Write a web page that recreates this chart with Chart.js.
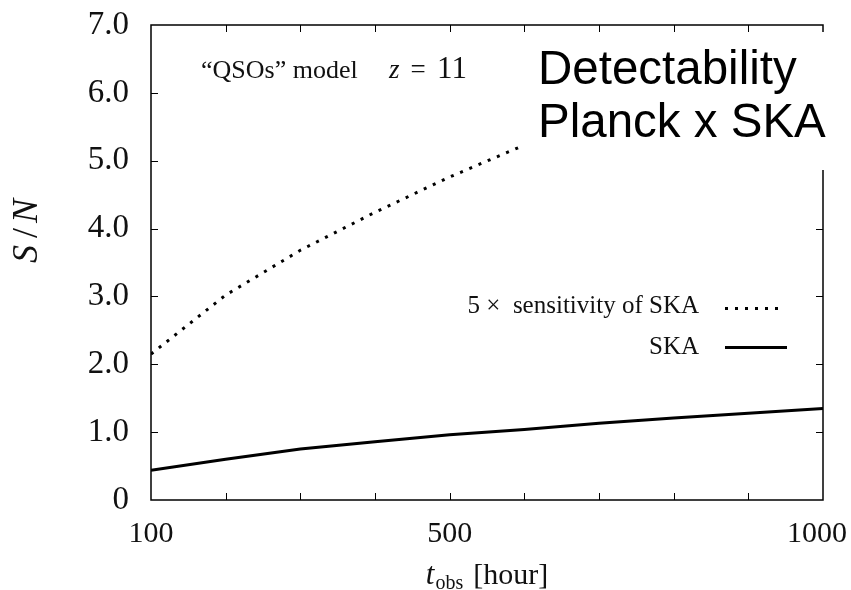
<!DOCTYPE html>
<html>
<head>
<meta charset="utf-8">
<script src="https://cdn.jsdelivr.net/npm/chart.js@4/dist/chart.umd.min.js"></script>
<style>
  body { margin: 0; background: #fff; }
  #wrap { width: 851px; height: 590px; }
</style>
</head>
<body>
<div id="wrap"><canvas id="snChart"></canvas></div>
<script>
// observing time [hour] and S/N
const hours = [100, 200, 300, 400, 500, 600, 700, 800, 900, 1000];
const snSKA = [0.44, 0.60, 0.75, 0.86, 0.96, 1.04, 1.13, 1.21, 1.28, 1.35];
// the dotted curve disappears behind the label box after ~600 h
const sn5xSKA = [2.15, 3.02, 3.68, 4.24, 4.76, 5.23, null, null, null, null];
const xLabelTicks = [100, 500, 1000];
const seriesNames = ["5 \u00d7  sensitivity of SKA", "SKA"];

const serif = "'Liberation Serif', 'Times New Roman', serif";
const sans = "'Liberation Sans', Arial, sans-serif";

function toPoints(ys) {
  return hours.map((h, i) => ({ x: h, y: ys[i] }));
}

// frame, inward ticks, x labels, legend, annotations and axis titles
const decor = {
  id: "decor",
  afterDatasetsDraw(chart) {
    const ctx = chart.ctx;
    const a = chart.chartArea;
    const xs = chart.scales.x, ys = chart.scales.y;
    ctx.save();
    ctx.strokeStyle = "#000";
    ctx.lineWidth = 1.5;
    ctx.strokeRect(a.left, a.top, a.right - a.left, a.bottom - a.top);

    // inward tick marks on all four sides
    ctx.lineWidth = 1;
    ctx.beginPath();
    xs.ticks.forEach(t => {
      if (t.value <= xs.min || t.value >= xs.max) return;
      const px = Math.round(xs.getPixelForValue(t.value)) + 0.5;
      ctx.moveTo(px, a.bottom); ctx.lineTo(px, a.bottom - 7);
      ctx.moveTo(px, a.top); ctx.lineTo(px, a.top + 7);
    });
    ys.ticks.forEach(t => {
      if (t.value <= ys.min || t.value >= ys.max) return;
      const py = Math.round(ys.getPixelForValue(t.value)) + 0.5;
      ctx.moveTo(a.left, py); ctx.lineTo(a.left + 7, py);
      ctx.moveTo(a.right, py); ctx.lineTo(a.right - 7, py);
    });
    ctx.stroke();

    // x tick labels, kept inside the canvas like the original
    ctx.fillStyle = "#111";
    ctx.font = "30px " + serif;
    ctx.textAlign = "center";
    ctx.textBaseline = "alphabetic";
    xLabelTicks.forEach(v => {
      const s = String(v);
      const w = ctx.measureText(s).width;
      let px = xs.getPixelForValue(v);
      if (px + w / 2 > chart.width - 4) px = chart.width - 4 - w / 2;
      ctx.fillText(s, px, 542);
    });

    // legend
    const ds = chart.data.datasets;
    ctx.font = "25px " + serif;
    ctx.textAlign = "right";
    const legRows = [{ base: 313, line: 308.5, end: 783 }, { base: 354, line: 347.5, end: 787 }];
    ds.forEach((d, i) => {
      const r = legRows[i];
      ctx.fillText(d.label, 699, r.base);
      ctx.strokeStyle = d.borderColor;
      ctx.lineWidth = d.borderWidth;
      ctx.setLineDash(d.borderDash || []);
      ctx.beginPath();
      ctx.moveTo(725, r.line); ctx.lineTo(r.end, r.line);
      ctx.stroke();
      ctx.setLineDash([]);
    });

    // model label
    ctx.textAlign = "left";
    ctx.font = "26px " + serif;
    ctx.fillText("\u201cQSOs\u201d model", 201, 78);
    ctx.font = "italic 27px " + serif;
    ctx.fillText("z", 389, 78);
    ctx.font = "27px " + serif;
    ctx.textAlign = "center";
    ctx.fillText("=", 418, 78);
    ctx.font = "31px " + serif;
    ctx.fillText("11", 452, 78);

    // pasted title box
    ctx.textAlign = "left";
    ctx.fillStyle = "#fff";
    ctx.fillRect(521, 32, 330, 138);
    ctx.fillStyle = "#000";
    ctx.font = "47.5px " + sans;
    ctx.fillText("Detectability", 538, 84);
    ctx.fillText("Planck x SKA", 538, 137);

    // x axis title: t_obs [hour]
    ctx.fillStyle = "#111";
    ctx.font = "italic 31px " + serif;
    const tW = ctx.measureText("t").width;
    ctx.font = "20px " + serif;
    const subW = ctx.measureText("obs").width;
    ctx.font = "30px " + serif;
    const hW = ctx.measureText("[hour]").width;
    const gap = 11;
    let x0 = (a.left + a.right) / 2 - (tW + subW + gap + hW) / 2;
    ctx.font = "italic 31px " + serif;
    ctx.fillText("t", x0, 584);
    ctx.font = "20px " + serif;
    ctx.fillText("obs", x0 + tW + 1, 589);
    ctx.font = "30px " + serif;
    ctx.fillText("[hour]", x0 + tW + subW + gap, 584);

    // y axis title: S/N
    ctx.translate(37, 233);
    ctx.rotate(-Math.PI / 2);
    ctx.textAlign = "center";
    ctx.font = "italic 36px " + serif;
    ctx.fillText("S", -21, 0);
    ctx.fillText("N", 22, 0);
    ctx.font = "36px " + serif;
    ctx.fillText("/", 0, 0);
    ctx.restore();
  }
};

new Chart(document.getElementById("snChart"), {
  type: "line",
  data: {
    datasets: [
      {
        label: seriesNames[0],
        data: toPoints(sn5xSKA),
        borderColor: "#000",
        borderWidth: 3,
        borderDash: [3, 7],
        pointRadius: 0,
        tension: 0,
        spanGaps: false
      },
      {
        label: seriesNames[1],
        data: toPoints(snSKA),
        borderColor: "#000",
        borderWidth: 3,
        pointRadius: 0,
        tension: 0
      }
    ]
  },
  options: {
    responsive: true,
    maintainAspectRatio: false,
    animation: false,
    layout: { padding: { top: 25, right: 28, left: 0, bottom: 0 } },
    plugins: {
      legend: { display: false },
      tooltip: { enabled: false }
    },
    scales: {
      x: {
        type: "linear",
        min: 100,
        max: 1000,
        border: { display: false },
        grid: { display: false, drawTicks: false },
        ticks: {
          stepSize: 100,
          autoSkip: false,
          maxRotation: 0,
          display: false
        },
        afterFit(s) { s.height = 90; s.paddingLeft = 0; s.paddingRight = 0; }
      },
      y: {
        min: 0,
        max: 7,
        border: { display: false },
        grid: { display: false, drawTicks: false },
        ticks: {
          stepSize: 1,
          padding: 22,
          color: "#111",
          font: { family: serif, size: 33 },
          callback: v => v === 0 ? "0" : v.toFixed(1)
        },
        afterFit(s) { s.width = 151; s.paddingTop = 0; s.paddingBottom = 0; }
      }
    }
  },
  plugins: [decor]
});
</script>
</body>
</html>
